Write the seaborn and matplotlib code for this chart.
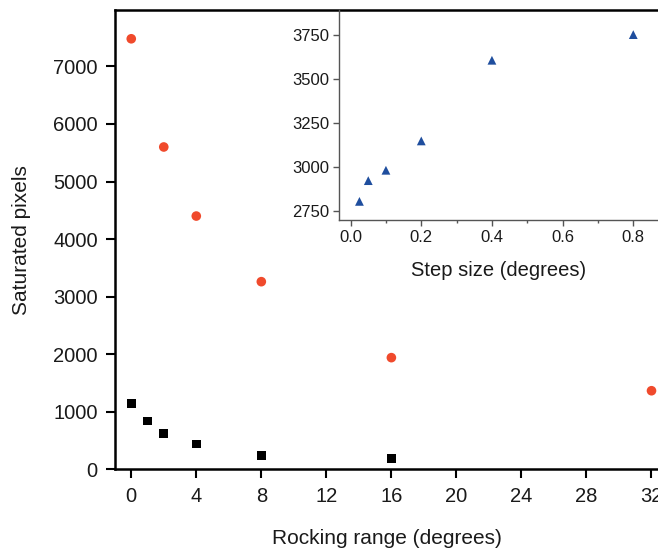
import matplotlib
matplotlib.use("Agg")
import matplotlib.pyplot as plt
from matplotlib.ticker import MultipleLocator
import seaborn as sns
import pandas as pd

# Saturated pixels versus rocking range
rocking_range_red = [0, 2, 4, 8, 16, 32]
saturated_red = [7480, 5600, 4400, 3260, 1940, 1365]

rocking_range_black = [0, 1, 2, 4, 8, 16]
saturated_black = [1140, 840, 625, 440, 243, 190]

# Saturated pixels versus step size (inset)
step_size = [0.025, 0.05, 0.1, 0.2, 0.4, 0.8]
saturated_step = [2803, 2921, 2980, 3147, 3606, 3752]

main_xticks = [0, 4, 8, 12, 16, 20, 24, 28, 32]
main_yticks = [0, 1000, 2000, 3000, 4000, 5000, 6000, 7000]
inset_xticks = [0.0, 0.2, 0.4, 0.6, 0.8]
inset_yticks = [2750, 3000, 3250, 3500, 3750]

sns.set_style("ticks")
plt.rcParams["font.family"] = ["Liberation Sans", "DejaVu Sans"]

W, H = 658, 549
fig = plt.figure(figsize=(W / 100, H / 100), dpi=100)

ax = fig.add_axes([115 / W, 1 - 469.3 / H, 1 - 115 / W, (469.3 - 10) / H])
red_df = pd.DataFrame({"x": rocking_range_red, "y": saturated_red})
black_df = pd.DataFrame({"x": rocking_range_black, "y": saturated_black})
sns.scatterplot(data=red_df, x="x", y="y", ax=ax, color="#F04A2C", marker="o",
                s=48, edgecolor="none", linewidth=0, zorder=3)
sns.scatterplot(data=black_df, x="x", y="y", ax=ax, color="black", marker="s",
                s=40, edgecolor="none", linewidth=0, zorder=3)
ax.set_xlim(-1.0, 32.4)
ax.set_ylim(0, 7980)
ax.set_xticks(main_xticks)
ax.set_yticks(main_yticks)
for side in ("left", "bottom", "top"):
    ax.spines[side].set_linewidth(1.8)
    ax.spines[side].set_color("black")
ax.spines["right"].set_visible(False)
ax.tick_params(axis="both", direction="out", length=6.5, width=1.5,
               labelsize=14.5, color="black", labelcolor="#1a1a1a", pad=6)
ax.set_xlabel("Rocking range (degrees)", fontsize=15, labelpad=17, color="#1a1a1a")
ax.set_ylabel("Saturated pixels", fontsize=15, labelpad=16, color="#1a1a1a")

# inset: step size dependence
ins = fig.add_axes([339.3 / W, 1 - 220 / H, 1 - 339.3 / W, (220 - 10) / H])
step_df = pd.DataFrame({"x": step_size, "y": saturated_step})
sns.scatterplot(data=step_df, x="x", y="y", ax=ins, color="#1F4E9E", marker="^",
                s=40, edgecolor="none", linewidth=0, zorder=3)
ins.set_xlim(-0.032, 0.87)
ins.set_ylim(2697, 3892)
ins.set_xticks(inset_xticks)
ins.set_xticklabels([f"{v:.1f}" for v in inset_xticks])
ins.set_yticks(inset_yticks)
ins.xaxis.set_minor_locator(MultipleLocator(0.1))
ins.patch.set_alpha(0)
for side in ("top", "right"):
    ins.spines[side].set_visible(False)
for side in ("left", "bottom"):
    ins.spines[side].set_linewidth(1.0)
    ins.spines[side].set_color("#555555")
ins.tick_params(axis="both", which="major", direction="out", length=4, width=1.0,
                labelsize=12, color="#555555", labelcolor="#1a1a1a", pad=3)
ins.tick_params(axis="x", which="minor", direction="out", length=2.5, width=1.0,
                color="#555555")
ins.set_xlabel("Step size (degrees)", fontsize=14.5, labelpad=12, color="#1a1a1a")
ins.set_ylabel("")

fig.savefig("out.png", dpi=100)
